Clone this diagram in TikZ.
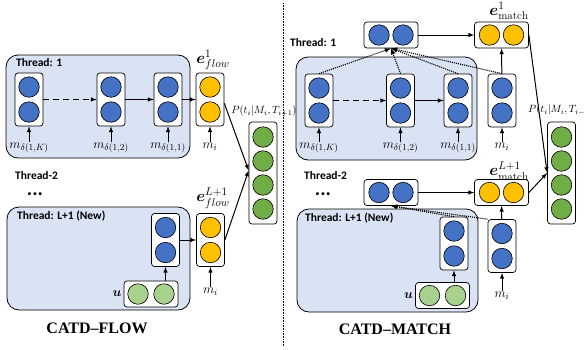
\RequirePackage{fix-cm}
\documentclass[tikz,border=0pt]{standalone}
\usepackage{fontspec}
\usepackage{amsmath,bm}
\newfontfamily\calib{Carlito}
\newfontfamily\timesb{Liberation Serif}
\usetikzlibrary{calc}
\definecolor{ballblue}{RGB}{68,114,196}
\definecolor{ballyellow}{RGB}{255,192,0}
\definecolor{ballgreen}{RGB}{112,173,71}
\definecolor{lightgreen}{RGB}{169,209,142}
\definecolor{threadbg}{RGB}{218,227,243}

\begin{document}
\begin{tikzpicture}[x=1pt,y=-1pt,>=latex,
    thread/.style={draw,fill=threadbg,rounded corners=12pt,line width=.8pt},
    colbox/.style={draw,fill=white,rounded corners=3pt,minimum width=28pt,minimum height=53pt,inner sep=0pt,line width=.7pt},
    rowbox/.style={draw,fill=white,rounded corners=3pt,minimum width=54pt,minimum height=26pt,inner sep=0pt,line width=.7pt},
    ball/.style={circle,draw,minimum size=20.5pt,inner sep=0pt,line width=.6pt},
    tlabel/.style={anchor=west,inner sep=0pt,font=\calib\bfseries\fontsize{11.5}{13}\selectfont},
    dotlabel/.style={inner sep=0pt,font=\calib\bfseries\fontsize{20}{20}\selectfont},
    mlab/.style={inner sep=1pt,font=\fontsize{13}{15}\selectfont},
    elab/.style={inner sep=1pt,font=\fontsize{16}{18}\selectfont},
    plab/.style={inner sep=1pt,font=\fontsize{10.5}{12}\selectfont},
    arr/.style={->,line width=1pt},
    att/.style={->,densely dotted,line width=1.1pt},
    title/.style={font=\timesb\bfseries\fontsize{16}{18}\selectfont}]
      \useasboundingbox (0,0) rectangle (585,349);
      % CATD-FLOW
      \draw[thread](6,55) rectangle (190,158);
      \draw[thread](7,207) rectangle (190,310);
      \node[tlabel] (thA) at (16,63) {Thread: 1};
      \node[tlabel] (thB) at (15,176) {Thread-2};
      \node[dotlabel] (dotsA) at (35,194) {...};
      \node[tlabel] (thC) at (17,216) {Thread: L+1 (New)};
      \foreach \n/\x/\col in {c1/29/ballblue,c2/111/ballblue,c3/168/ballblue,y1/210/ballyellow}{
        \node[colbox] (\n) at (\x,99.5) {};
        \node[ball,fill=\col] (\n-a) at (\x,87) {};
        \node[ball,fill=\col] (\n-b) at (\x,112) {};
      }
      \node[mlab] (mc1) at (29,148) {$m_{\delta(1,K)}$};
      \node[mlab] (mc2) at (111,148) {$m_{\delta(1,2)}$};
      \node[mlab] (mc3) at (168,148) {$m_{\delta(1,1)}$};
      \node[mlab] (my1) at (210,147) {$m_i$};
      \foreach \n in {c1,c2,c3,y1} \draw[arr](m\n)--(\n);
      \draw[arr,dash pattern=on 6pt off 4pt](c1)--(c2);
      \draw[arr](c2)--(c3);
      \draw[arr](c3)--(y1);
      \node[elab] (ef1) at (213,60) {$\bm{e}^{1}_{flow}$};
      \foreach \n/\x/\col in {n1/165.5/ballblue,y2/210.5/ballyellow}{
        \node[colbox] (\n) at (\x,240) {};
        \node[ball,fill=\col] (\n-a) at (\x,227.5) {};
        \node[ball,fill=\col] (\n-b) at (\x,252.5) {};
      }
      \node[rowbox] (U1) at (151,294) {};
      \node[ball,fill=lightgreen] (U1-a) at (138,294) {};
      \node[ball,fill=lightgreen] (U1-b) at (164,294) {};
      \node[anchor=east,inner sep=2pt,font=\fontsize{13}{15}\selectfont] (u1) at (U1.west) {$\bm{u}$};
      \draw[arr](U1.north -| n1)--(n1);
      \draw[arr](n1)--(y2);
      \node[mlab] (my2) at (210.5,292) {$m_i$};
      \draw[arr](my2)--(y2);
      \node[elab] (ef2) at (213,198) {$\bm{e}^{L+1}_{flow}$};
      \node[colbox,minimum height=102pt] (G) at (263,173) {};
      \foreach \k/\y in {1/137,2/161,3/185,4/209} \node[ball,fill=ballgreen] (G-\k) at (263,\y) {};
      \node[plab] (PA) at (264,111) {$P(t_i|M_i,T_{i+1})$};
      \draw[arr](y1.-15)--(G.170);
      \draw[arr](y2.east)--(G.170);
      \node[title] (tA) at (97,328) {CATD–FLOW};
      \draw[densely dotted,line width=.6pt](283,3)--(283,346);
      % CATD-MATCH
      \draw[thread](296,57) rectangle (477,160);
      \draw[thread](297,209) rectangle (478,312);
      \node[tlabel] (thD) at (290,43) {Thread: 1};
      \node[tlabel] (thE) at (304,176) {Thread-2};
      \node[dotlabel] (dotsB) at (323,194) {...};
      \node[tlabel] (thF) at (305,218) {Thread: L+1 (New)};
      \foreach \n/\x/\y/\col in {A1/391/35/ballblue,E1/501.5/35/ballyellow,A2/391/192.5/ballblue,E2/501.5/192.5/ballyellow}{
        \node[rowbox] (\n) at (\x,\y) {};
        \node[ball,fill=\col] (\n-a) at (\x-12,\y) {};
        \node[ball,fill=\col] (\n-b) at (\x+12,\y) {};
      }
      \node[elab] (em1) at (509,11) {$\bm{e}^{1}_{\mathrm{match}}$};
      \node[elab] (em2) at (509,171) {$\bm{e}^{L+1}_{\mathrm{match}}$};
      \draw[arr](A1)--(E1);
      \draw[arr](A2)--(E2);
      \foreach \n/\x in {d1/319,d2/400.5,d3/458,mc/502}{
        \node[colbox] (\n) at (\x,100.5) {};
        \node[ball,fill=ballblue] (\n-a) at (\x,88) {};
        \node[ball,fill=ballblue] (\n-b) at (\x,113) {};
      }
      \node[mlab] (md1) at (319,148) {$m_{\delta(1,K)}$};
      \node[mlab] (md2) at (400.5,148) {$m_{\delta(1,2)}$};
      \node[mlab] (md3) at (458,148) {$m_{\delta(1,1)}$};
      \node[mlab] (mmc) at (502,147) {$m_i$};
      \foreach \n in {d1,d2,d3,mc} \draw[arr](m\n)--(\n);
      \draw[arr,dash pattern=on 6pt off 4pt](d1)--(d2);
      \draw[arr](d2)--(d3);
      \foreach \n in {d1,d2,d3,mc} \draw[att](\n.north)--(A1.south);
      \draw[arr](mc)--(E1);
      \foreach \n/\x/\y in {n2/454/243.5,mc2/502/246}{
        \node[colbox] (\n) at (\x,\y) {};
        \node[ball,fill=ballblue] (\n-a) at (\x,\y-12.5) {};
        \node[ball,fill=ballblue] (\n-b) at (\x,\y+12.5) {};
      }
      \node[rowbox] (U2) at (442.5,295.5) {};
      \node[ball,fill=lightgreen] (U2-a) at (429.5,295.5) {};
      \node[ball,fill=lightgreen] (U2-b) at (455.5,295.5) {};
      \node[anchor=east,inner sep=2pt,font=\fontsize{13}{15}\selectfont] (u2) at (U2.west) {$\bm{u}$};
      \draw[arr](U2.north -| n2)--(n2);
      \node[mlab] (mmc2) at (502,296) {$m_i$};
      \draw[arr](mmc2)--(mc2);
      \draw[arr](mc2)--(E2);
      \draw[att](mc2.north west)--(A2.south);
      \draw[att](n2.north)--(A2.south);
      \node[colbox,minimum height=102pt] (G2) at (561.5,173) {};
      \foreach \k/\y in {1/137,2/161,3/185,4/209} \node[ball,fill=ballgreen] (G2-\k) at (561.5,\y) {};
      \node[plab,anchor=west] (PB) at (527,110) {$P(t_i|M_i,T_{i-1})$};
      \draw[arr](E1.east)--(G2.west);
      \draw[arr](E2.east)--(G2.west);
      \node[title] (tB) at (395,329) {CATD–MATCH};
    \end{tikzpicture}
\end{document}
